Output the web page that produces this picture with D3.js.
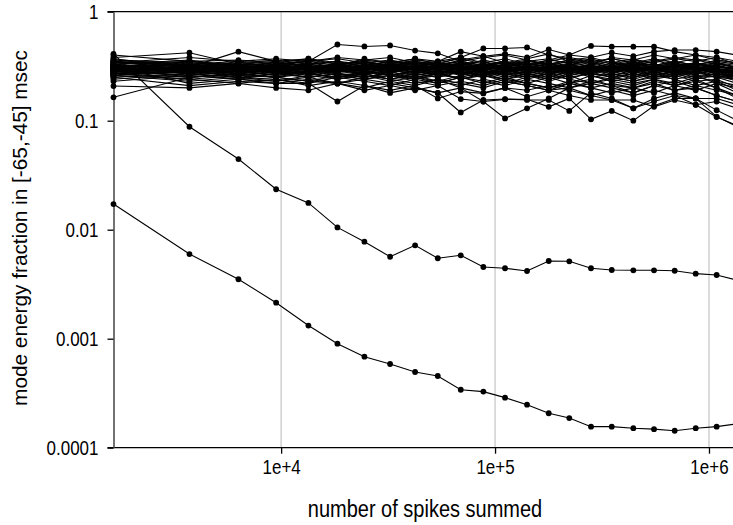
<!DOCTYPE html>
<html><head><meta charset="utf-8">
<script src="https://cdn.jsdelivr.net/npm/d3@7/dist/d3.min.js"></script>
<style>body{margin:0;background:#fff}svg{display:block}text{font-family:"Liberation Sans",Arial,sans-serif;fill:#000}</style>
</head><body><div id="chart"></div>
<script>
// number of spikes summed (x positions of the samples)
const spikes = [1646, 3728, 6317, 9476, 13414, 18334, 24510, 32310, 42290, 53980, 69130, 88170, 111350, 141100, 178200, 222300, 280900, 351100, 443000, 553400, 691300, 866900, 1086000, 1360000];
const xTickValues = [1e4, 1e5, 1e6];
const xTickLabels = ["1e+4", "1e+5", "1e+6"];
const yTickValues = [1, 0.1, 0.01, 0.001, 0.0001];
const yTickLabels = ["1", "0.1", "0.01", "0.001", "0.0001"];

// two decaying modes
const modeUpper = [0.41, 0.088, 0.0445, 0.0235, 0.0176, 0.0105, 0.00776, 0.00565, 0.00719, 0.00547, 0.00582, 0.00455, 0.00443, 0.00418, 0.00516, 0.00513, 0.00443, 0.00427, 0.00424, 0.00424, 0.0042, 0.00395, 0.00384, 0.00343];
const modeLower = [0.0172, 0.00598, 0.00351, 0.00214, 0.00132, 0.0009, 0.000684, 0.000586, 0.000495, 0.000455, 0.00034, 0.000327, 0.000288, 0.000248, 0.000207, 0.000187, 0.000156, 0.000156, 0.000151, 0.000148, 0.000143, 0.000151, 0.000156, 0.000166];

// the bundle of modes around 0.3
const bundle = [
[0.30,0.28,0.29,0.27,0.28,0.30,0.29,0.31,0.28,0.27,0.29,0.30,0.28,0.31,0.29,0.27,0.30,0.28,0.29,0.31,0.28,0.30,0.27,0.26],
[0.33,0.36,0.31,0.30,0.32,0.29,0.33,0.30,0.31,0.34,0.30,0.32,0.35,0.30,0.33,0.31,0.29,0.32,0.34,0.30,0.31,0.33,0.30,0.29],
[0.27,0.24,0.26,0.28,0.25,0.27,0.26,0.24,0.27,0.25,0.28,0.26,0.24,0.27,0.25,0.28,0.26,0.24,0.27,0.25,0.26,0.28,0.25,0.24],
[0.38,0.42,0.33,0.35,0.37,0.33,0.36,0.38,0.34,0.32,0.36,0.39,0.34,0.37,0.41,0.35,0.33,0.38,0.36,0.40,0.37,0.35,0.38,0.33],
[0.25,0.21,0.23,0.22,0.24,0.22,0.20,0.23,0.21,0.24,0.22,0.20,0.23,0.21,0.19,0.22,0.24,0.21,0.20,0.23,0.21,0.19,0.22,0.20],
[0.31,0.33,0.30,0.32,0.30,0.31,0.34,0.32,0.30,0.33,0.31,0.29,0.32,0.34,0.31,0.30,0.33,0.35,0.31,0.29,0.32,0.34,0.31,0.30],
[0.28,0.30,0.27,0.25,0.29,0.27,0.25,0.28,0.30,0.26,0.25,0.28,0.27,0.24,0.27,0.29,0.25,0.27,0.24,0.27,0.30,0.26,0.25,0.22],
[0.35,0.32,0.34,0.36,0.33,0.35,0.31,0.33,0.36,0.34,0.37,0.33,0.31,0.35,0.33,0.36,0.38,0.34,0.32,0.35,0.38,0.36,0.33,0.31],
[0.29,0.26,0.31,0.29,0.27,0.25,0.28,0.30,0.26,0.28,0.24,0.27,0.29,0.26,0.23,0.26,0.28,0.25,0.27,0.24,0.26,0.23,0.24,0.20],
[0.32,0.29,0.28,0.31,0.34,0.31,0.29,0.27,0.32,0.30,0.33,0.35,0.31,0.28,0.32,0.35,0.31,0.29,0.33,0.36,0.32,0.30,0.34,0.32],
[0.26,0.23,0.25,0.24,0.22,0.25,0.23,0.21,0.24,0.22,0.25,0.23,0.21,0.24,0.22,0.20,0.23,0.21,0.18,0.21,0.23,0.20,0.17,0.15],
[0.34,0.38,0.35,0.33,0.35,0.37,0.34,0.36,0.33,0.35,0.38,0.34,0.37,0.33,0.36,0.34,0.37,0.33,0.36,0.34,0.37,0.40,0.36,0.34],
[0.30,0.31,0.33,0.29,0.31,0.28,0.30,0.33,0.29,0.27,0.31,0.28,0.30,0.32,0.28,0.31,0.27,0.30,0.28,0.32,0.29,0.27,0.29,0.27],
[0.27,0.29,0.25,0.27,0.30,0.26,0.28,0.26,0.29,0.31,0.27,0.25,0.28,0.30,0.26,0.24,0.28,0.30,0.26,0.28,0.25,0.28,0.26,0.23],
[0.36,0.34,0.32,0.34,0.31,0.33,0.35,0.32,0.34,0.30,0.32,0.36,0.33,0.30,0.34,0.32,0.30,0.34,0.37,0.33,0.30,0.33,0.35,0.33],
[0.23,0.26,0.28,0.26,0.28,0.29,0.27,0.29,0.27,0.29,0.27,0.29,0.26,0.28,0.30,0.27,0.29,0.26,0.29,0.26,0.28,0.25,0.27,0.24],
[0.32,0.27,0.30,0.28,0.26,0.28,0.31,0.29,0.27,0.30,0.28,0.26,0.29,0.27,0.30,0.33,0.29,0.31,0.27,0.30,0.33,0.29,0.26,0.25],
[0.40,0.35,0.32,0.30,0.33,0.35,0.33,0.31,0.33,0.31,0.34,0.31,0.33,0.36,0.32,0.29,0.31,0.29,0.32,0.29,0.31,0.34,0.30,0.28],
[0.29,0.32,0.29,0.31,0.27,0.29,0.27,0.29,0.31,0.29,0.26,0.30,0.32,0.29,0.31,0.28,0.32,0.29,0.31,0.28,0.32,0.29,0.31,0.30],
[0.31,0.25,0.27,0.29,0.31,0.27,0.29,0.26,0.25,0.27,0.29,0.26,0.28,0.25,0.27,0.30,0.26,0.23,0.25,0.27,0.24,0.26,0.22,0.18],
[0.28,0.34,0.31,0.27,0.29,0.32,0.30,0.28,0.30,0.32,0.30,0.28,0.26,0.29,0.31,0.29,0.27,0.30,0.28,0.31,0.34,0.30,0.33,0.31],
[0.33,0.29,0.27,0.30,0.28,0.24,0.27,0.24,0.26,0.23,0.26,0.28,0.25,0.27,0.24,0.26,0.22,0.25,0.23,0.26,0.24,0.21,0.23,0.21],
[0.35,0.31,0.34,0.32,0.35,0.32,0.37,0.34,0.37,0.33,0.35,0.32,0.34,0.32,0.35,0.38,0.35,0.32,0.35,0.32,0.35,0.32,0.36,0.34],
[0.26,0.28,0.30,0.33,0.30,0.33,0.31,0.34,0.31,0.29,0.32,0.30,0.33,0.31,0.28,0.30,0.33,0.31,0.29,0.31,0.28,0.31,0.28,0.26],
[0.37,0.31,0.29,0.26,0.28,0.26,0.24,0.26,0.28,0.26,0.29,0.27,0.30,0.27,0.29,0.26,0.29,0.27,0.25,0.28,0.26,0.29,0.32,0.29],
[0.30,0.35,0.36,0.34,0.37,0.34,0.32,0.35,0.32,0.34,0.32,0.30,0.33,0.35,0.37,0.33,0.35,0.37,0.34,0.31,0.34,0.31,0.29,0.26],
[0.24,0.27,0.24,0.23,0.26,0.24,0.26,0.23,0.25,0.23,0.21,0.24,0.22,0.25,0.27,0.24,0.22,0.24,0.22,0.24,0.21,0.23,0.20,0.17],
[0.29,0.27,0.32,0.34,0.32,0.30,0.32,0.35,0.33,0.30,0.33,0.31,0.29,0.32,0.34,0.30,0.28,0.31,0.33,0.30,0.27,0.30,0.32,0.29],
[0.32,0.30,0.26,0.25,0.23,0.22,0.25,0.27,0.24,0.27,0.30,0.33,0.30,0.26,0.24,0.27,0.30,0.27,0.30,0.26,0.29,0.32,0.28,0.25],
[0.34,0.33,0.30,0.33,0.36,0.33,0.30,0.33,0.30,0.28,0.24,0.27,0.24,0.22,0.25,0.22,0.26,0.23,0.21,0.24,0.22,0.25,0.23,0.19],
[0.27,0.31,0.33,0.31,0.29,0.32,0.35,0.32,0.35,0.32,0.35,0.38,0.40,0.36,0.33,0.36,0.34,0.31,0.34,0.37,0.34,0.37,0.34,0.30],
[0.31,0.22,0.24,0.27,0.25,0.27,0.25,0.28,0.25,0.22,0.25,0.22,0.25,0.22,0.20,0.23,0.20,0.22,0.20,0.18,0.21,0.24,0.20,0.16],
[0.29,0.30,0.28,0.30,0.29,0.31,0.28,0.30,0.32,0.29,0.31,0.28,0.30,0.29,0.32,0.29,0.31,0.29,0.30,0.28,0.30,0.28,0.30,0.28],
[0.31,0.28,0.30,0.29,0.31,0.29,0.31,0.29,0.28,0.30,0.28,0.31,0.29,0.31,0.28,0.30,0.29,0.31,0.28,0.30,0.27,0.29,0.28,0.27],
[0.28,0.31,0.29,0.28,0.30,0.28,0.29,0.31,0.29,0.28,0.30,0.29,0.27,0.30,0.29,0.31,0.28,0.29,0.31,0.29,0.31,0.30,0.28,0.29],
[0.33,0.30,0.32,0.31,0.29,0.31,0.32,0.30,0.32,0.31,0.29,0.31,0.32,0.30,0.29,0.32,0.30,0.32,0.30,0.32,0.29,0.32,0.31,0.30],
[0.27,0.28,0.26,0.28,0.27,0.29,0.27,0.28,0.26,0.28,0.27,0.29,0.27,0.28,0.26,0.28,0.27,0.26,0.28,0.26,0.28,0.26,0.27,0.25],
[0.34,0.31,0.33,0.32,0.33,0.30,0.32,0.31,0.34,0.32,0.33,0.30,0.32,0.33,0.31,0.33,0.32,0.30,0.32,0.33,0.31,0.33,0.32,0.30],
[0.30,0.29,0.31,0.30,0.28,0.30,0.32,0.30,0.29,0.31,0.29,0.30,0.31,0.28,0.30,0.31,0.29,0.31,0.29,0.30,0.32,0.31,0.29,0.28],
[0.26,0.30,0.28,0.29,0.30,0.28,0.30,0.29,0.30,0.28,0.30,0.27,0.29,0.30,0.28,0.29,0.31,0.28,0.30,0.29,0.27,0.29,0.30,0.27],
[0.32,0.32,0.29,0.32,0.30,0.32,0.29,0.31,0.30,0.32,0.30,0.32,0.30,0.31,0.30,0.28,0.30,0.32,0.30,0.27,0.30,0.27,0.29,0.28],
[0.29,0.33,0.31,0.29,0.32,0.30,0.31,0.30,0.32,0.30,0.32,0.29,0.31,0.29,0.32,0.30,0.28,0.30,0.32,0.30,0.33,0.31,0.30,0.29],
[0.31,0.27,0.29,0.31,0.29,0.28,0.29,0.32,0.30,0.29,0.27,0.30,0.28,0.30,0.27,0.29,0.30,0.28,0.26,0.29,0.28,0.30,0.27,0.26],
[0.35,0.29,0.31,0.28,0.31,0.29,0.31,0.28,0.31,0.30,0.31,0.29,0.31,0.30,0.30,0.31,0.28,0.31,0.29,0.31,0.29,0.31,0.28,0.27],
[0.28,0.29,0.30,0.31,0.30,0.31,0.29,0.30,0.28,0.31,0.29,0.31,0.29,0.30,0.31,0.30,0.32,0.30,0.31,0.30,0.31,0.29,0.31,0.30],
[0.30,0.31,0.30,0.29,0.31,0.30,0.28,0.30,0.31,0.29,0.30,0.31,0.30,0.29,0.31,0.29,0.30,0.29,0.31,0.29,0.30,0.30,0.29,0.28],
[0.32,0.30,0.31,0.33,0.35,0.50,0.48,0.49,0.44,0.415,0.35,0.32,0.34,0.31,0.33,0.30,0.32,0.30,0.33,0.31,0.29,0.31,0.29,0.27],
[0.30,0.31,0.43,0.35,0.31,0.33,0.30,0.32,0.29,0.31,0.34,0.31,0.29,0.32,0.30,0.33,0.30,0.28,0.31,0.29,0.32,0.30,0.27,0.25],
[0.33,0.35,0.32,0.30,0.33,0.31,0.34,0.32,0.35,0.33,0.38,0.46,0.46,0.47,0.40,0.37,0.34,0.37,0.34,0.32,0.35,0.32,0.34,0.31],
[0.29,0.31,0.30,0.33,0.30,0.32,0.30,0.33,0.31,0.34,0.31,0.33,0.35,0.32,0.36,0.40,0.485,0.478,0.478,0.478,0.43,0.40,0.38,0.35],
[0.36,0.33,0.35,0.37,0.35,0.38,0.36,0.34,0.37,0.35,0.43,0.39,0.41,0.38,0.45,0.40,0.38,0.42,0.39,0.43,0.445,0.445,0.43,0.40],
[0.164,0.25,0.27,0.25,0.27,0.25,0.28,0.26,0.24,0.26,0.28,0.26,0.24,0.26,0.28,0.25,0.27,0.25,0.23,0.25,0.27,0.24,0.26,0.24],
[0.208,0.20,0.22,0.20,0.19,0.22,0.19,0.21,0.19,0.21,0.23,0.21,0.24,0.22,0.20,0.22,0.20,0.18,0.20,0.22,0.19,0.21,0.19,0.17],
[0.28,0.26,0.24,0.22,0.22,0.15,0.21,0.18,0.20,0.18,0.20,0.18,0.20,0.19,0.21,0.19,0.17,0.19,0.17,0.19,0.17,0.16,0.16,0.14],
[0.26,0.24,0.22,0.24,0.21,0.23,0.21,0.19,0.21,0.16,0.185,0.178,0.20,0.166,0.19,0.17,0.155,0.155,0.155,0.134,0.155,0.14,0.15,0.13],
[0.31,0.29,0.27,0.29,0.27,0.25,0.27,0.24,0.22,0.24,0.20,0.15,0.105,0.13,0.16,0.20,0.22,0.20,0.18,0.21,0.19,0.20,0.17,0.15],
[0.25,0.27,0.25,0.23,0.25,0.22,0.24,0.22,0.20,0.18,0.119,0.155,0.158,0.155,0.155,0.123,0.18,0.16,0.13,0.16,0.18,0.16,0.125,0.10],
[0.27,0.25,0.27,0.25,0.23,0.26,0.24,0.26,0.23,0.21,0.158,0.15,0.157,0.157,0.134,0.16,0.103,0.123,0.10,0.137,0.16,0.16,0.109,0.088],
[0.30,0.28,0.26,0.28,0.30,0.27,0.25,0.27,0.25,0.27,0.24,0.26,0.23,0.21,0.19,0.20,0.17,0.155,0.13,0.15,0.17,0.14,0.108,0.09]
];

const xTitle = "number of spikes summed";
const yTitle = "mode energy fraction in [-65,-45] msec";

const W = 733, H = 525;
const mLeft = 113.5, mRight = 733, mTop = 11.7, mBottom = 447.7;
const stretch = 1.15; // vertical text stretch seen in the reference

const svg = d3.select("#chart").append("svg").attr("width", W).attr("height", H);

const x = d3.scaleLog().domain([spikes[0], 1.295e6]).range([mLeft, mRight]);
const y = d3.scaleLog().domain([0.0001, 1]).range([mBottom, mTop]);

// vertical grid lines
svg.append("g").selectAll("line").data(xTickValues).join("line")
  .attr("x1", d => x(d)).attr("x2", d => x(d))
  .attr("y1", mTop).attr("y2", mBottom)
  .attr("stroke", "#c8c8c8").attr("stroke-width", 1.3);

// top frame line
svg.append("line").attr("x1", mLeft - 6).attr("x2", W).attr("y1", mTop).attr("y2", mTop)
  .attr("stroke", "#000").attr("stroke-width", 1.3);

// x axis
const xAxis = d3.axisBottom(x).tickValues(xTickValues)
  .tickFormat((d, i) => xTickLabels[i]).tickSize(6).tickSizeOuter(0).tickPadding(6);
const gx = svg.append("g").attr("transform", `translate(0,${mBottom})`).call(xAxis);
gx.select(".domain").attr("stroke-width", 1.3).attr("d", `M${mLeft - 6},0H${W}`);
gx.selectAll(".tick line").attr("stroke-width", 1.3);
gx.selectAll("text").attr("font-size", 17).attr("font-family", "Liberation Sans, Arial, sans-serif")
  .attr("y", 0).attr("dy", null)
  .attr("transform", `translate(0,${26}) scale(1,${stretch})`);

// y axis
const yAxis = d3.axisLeft(y).tickValues(yTickValues)
  .tickFormat((d, i) => yTickLabels[i]).tickSize(6).tickSizeOuter(0).tickPadding(9);
const gy = svg.append("g").attr("transform", `translate(${mLeft},0)`).call(yAxis);
gy.select(".domain").attr("stroke", "#444").attr("stroke-width", 1.5);
gy.selectAll(".tick line").attr("stroke-width", 1.3);
gy.selectAll("text").attr("font-size", 17).attr("font-family", "Liberation Sans, Arial, sans-serif")
  .attr("dy", null).attr("y", 0)
  .attr("transform", `translate(0,${6.1 * stretch}) scale(1,${stretch})`);

// series
const line = d3.line().x((d, i) => x(spikes[i])).y(d => y(d));
const allSeries = bundle.concat([modeUpper, modeLower]);
const g = svg.append("g");
allSeries.forEach(s => {
  g.append("path").attr("d", line(s)).attr("fill", "none")
    .attr("stroke", "#000").attr("stroke-width", 1.1);
  g.selectAll(null).data(s).join("circle")
    .attr("cx", (d, i) => x(spikes[i])).attr("cy", d => y(d))
    .attr("r", 2.9).attr("fill", "#000");
});

// titles
svg.append("text").attr("transform", `translate(425,517) scale(1,${stretch})`).attr("text-anchor", "middle")
  .attr("font-size", 20).text(xTitle);
svg.append("text").attr("transform", "translate(27,228) scale(1,1.04) rotate(-90)")
  .attr("text-anchor", "middle").attr("font-size", 20).text(yTitle);
</script></body></html>
